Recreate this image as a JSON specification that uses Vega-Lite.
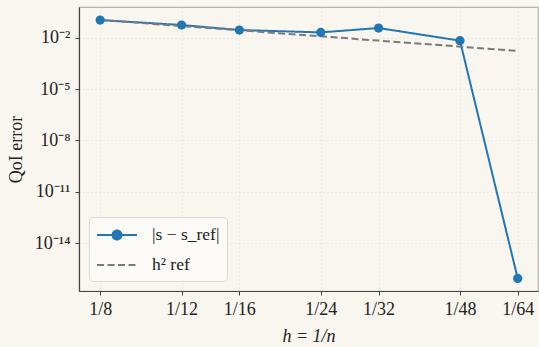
{
  "$schema": "https://vega.github.io/schema/vega-lite/v6.json",
  "width": 459,
  "height": 284,
  "autosize": {"type": "none"},
  "padding": {"left": 79, "top": 7, "right": 1, "bottom": 56},
  "background": "#f9f6f0",
  "config": {
    "font": "Liberation Serif",
    "view": {"stroke": "#b8b3ab", "strokeWidth": 1.2},
    "axis": {
      "labelFont": "Liberation Serif",
      "titleFont": "Liberation Serif",
      "labelFontSize": 18,
      "titleFontSize": 18,
      "labelColor": "#222222",
      "titleColor": "#222222",
      "titleFontWeight": "normal",
      "domainColor": "#444444",
      "domainWidth": 1.2,
      "tickColor": "#444444",
      "tickSize": 4,
      "gridColor": "#d6d3cd",
      "gridDash": [1, 3],
      "gridWidth": 0.8
    }
  },
  "data": {
    "values": [
      {"n": 8, "series": "|s − s_ref|", "value": 0.107},
      {"n": 12, "series": "|s − s_ref|", "value": 0.055},
      {"n": 16, "series": "|s − s_ref|", "value": 0.028},
      {"n": 24, "series": "|s − s_ref|", "value": 0.0204},
      {"n": 32, "series": "|s − s_ref|", "value": 0.0367},
      {"n": 48, "series": "|s − s_ref|", "value": 0.0067},
      {"n": 64, "series": "|s − s_ref|", "value": 8.7e-17},
      {"n": 8, "series": "h² ref", "value": 0.108},
      {"n": 12, "series": "h² ref", "value": 0.0479},
      {"n": 16, "series": "h² ref", "value": 0.027},
      {"n": 24, "series": "h² ref", "value": 0.012},
      {"n": 32, "series": "h² ref", "value": 0.00674},
      {"n": 48, "series": "h² ref", "value": 0.0030},
      {"n": 64, "series": "h² ref", "value": 0.00168}
    ]
  },
  "encoding": {
    "x": {
      "field": "n",
      "type": "quantitative",
      "scale": {"type": "log", "base": 2, "domain": [7.2, 70.8], "nice": false},
      "axis": {
        "title": "h = 1/n",
        "titleFontStyle": "italic",
        "values": [8, 12, 16, 24, 32, 48, 64],
        "labelExpr": "'1/' + datum.value",
        "labelPadding": 5,
        "titlePadding": 9,
        "grid": true
      }
    },
    "y": {
      "field": "value",
      "type": "quantitative",
      "scale": {"type": "log", "domain": [1.6e-17, 0.62], "nice": false},
      "axis": {
        "title": "QoI error",
        "values": [0.01, 1e-5, 1e-8, 1e-11, 1e-14],
        "labelExpr": "datum.value > 1e-3 ? '10⁻²' : datum.value > 1e-6 ? '10⁻⁵' : datum.value > 1e-9 ? '10⁻⁸' : datum.value > 1e-12 ? '10⁻¹¹' : '10⁻¹⁴'",
        "labelPadding": 5,
        "titlePadding": 9,
        "grid": true
      }
    },
    "color": {
      "field": "series",
      "type": "nominal",
      "scale": {"domain": ["|s − s_ref|", "h² ref"], "range": ["#1f77b4", "#7a7a7a"]},
      "legend": {
        "title": null,
        "orient": "bottom-left",
        "offset": 10,
        "padding": 7,
        "labelFont": "Liberation Serif",
        "labelFontSize": 17.5,
        "labelColor": "#222222",
        "labelOffset": 24,
        "symbolOffset": 10,
        "rowPadding": 10,
        "symbolSize": 400,
        "symbolStrokeWidth": 2,
        "fillColor": "#fbfaf7",
        "strokeColor": "#dcd9d3",
        "cornerRadius": 4,
        "encode": {
          "symbols": {
            "update": {
              "shape": {"signal": "datum.value === 'h² ref' ? 'M-2,0H2' : 'M-2,0H2M0.45,0A0.45,0.45 0 1,1 -0.45,0A0.45,0.45 0 1,1 0.45,0Z'"},
              "fill": {"signal": "datum.value === 'h² ref' ? 'transparent' : '#1f77b4'"},
              "strokeDash": {"signal": "datum.value === 'h² ref' ? [7, 3.5] : [1, 0]"},
              "opacity": {"value": 1}
            }
          }
        }
      }
    }
  },
  "layer": [
    {
      "mark": {"type": "line", "strokeWidth": 2, "clip": true},
      "encoding": {
        "strokeDash": {
          "field": "series",
          "type": "nominal",
          "scale": {"domain": ["|s − s_ref|", "h² ref"], "range": [[1, 0], [7, 3.5]]},
          "legend": null
        }
      }
    },
    {
      "transform": [{"filter": "datum.series === '|s − s_ref|'"}],
      "mark": {"type": "point", "filled": true, "size": 85, "opacity": 1}
    }
  ]
}
